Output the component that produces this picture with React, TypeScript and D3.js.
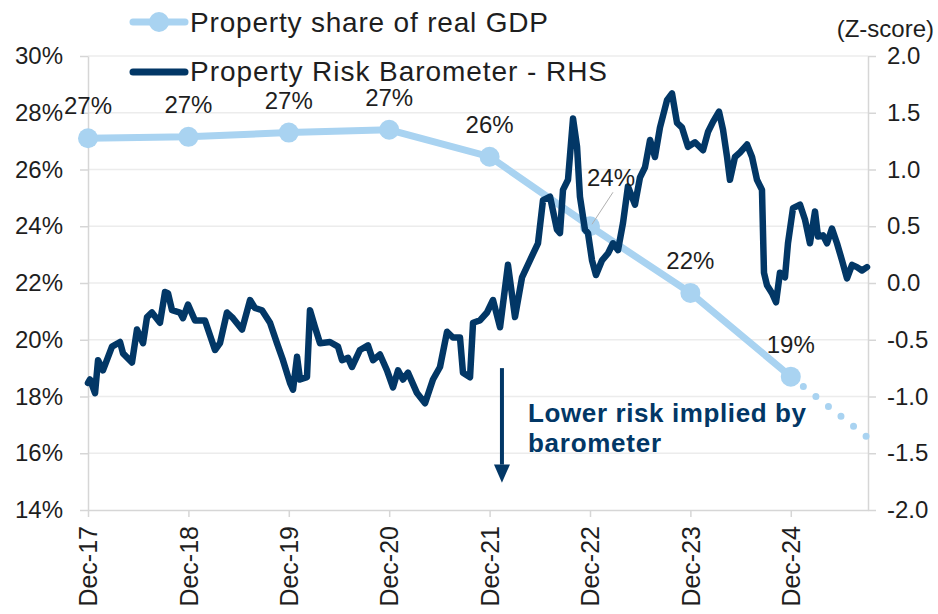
import { useRef, useEffect } from "react";
import { select, scaleLinear, line, axisBottom, axisLeft, axisRight } from "d3";

// property share of real GDP, december of each year (decimal years)
const gdpYears = [2017.917, 2018.917, 2019.917, 2020.917, 2021.917, 2022.917, 2023.917, 2024.917];
const gdpShare = [27.1, 27.15, 27.3, 27.4, 26.45, 24.0, 21.65, 18.7];
const gdpLabels = ["27%", "27%", "27%", "27%", "26%", "24%", "22%", "19%"];
// dotted projection
const projYears = [2024.917, 2025.917];
const projShare = [18.7, 15.9];

// property risk barometer (z-score)
const baroTime = [
  2017.917, 2017.937, 2017.987, 2018.017, 2018.066, 2018.156, 2018.236, 2018.266, 2018.355, 2018.405,
  2018.465, 2018.505, 2018.554, 2018.634, 2018.684, 2018.714, 2018.754, 2018.833, 2018.863, 2018.913,
  2018.983, 2019.082, 2019.182, 2019.232, 2019.301, 2019.361, 2019.451, 2019.531, 2019.58, 2019.65,
  2019.73, 2019.799, 2019.859, 2019.929, 2019.959, 2019.999, 2020.029, 2020.098, 2020.128, 2020.178,
  2020.228, 2020.327, 2020.407, 2020.447, 2020.507, 2020.546, 2020.626, 2020.706, 2020.756, 2020.825,
  2020.895, 2020.955, 2021.005, 2021.054, 2021.104, 2021.194, 2021.274, 2021.353, 2021.423, 2021.493,
  2021.552, 2021.622, 2021.652, 2021.722, 2021.752, 2021.821, 2021.891, 2021.951, 2022.021, 2022.1,
  2022.17, 2022.24, 2022.319, 2022.399, 2022.449, 2022.519, 2022.588, 2022.618, 2022.648, 2022.698,
  2022.748, 2022.788, 2022.817, 2022.867, 2022.897, 2022.937, 2022.977, 2023.037, 2023.096, 2023.146,
  2023.196, 2023.246, 2023.295, 2023.365, 2023.415, 2023.465, 2023.515, 2023.564, 2023.614, 2023.684,
  2023.734, 2023.784, 2023.833, 2023.893, 2023.963, 2024.043, 2024.092, 2024.142, 2024.202, 2024.242,
  2024.282, 2024.311, 2024.361, 2024.411, 2024.481, 2024.531, 2024.58, 2024.63, 2024.65, 2024.68,
  2024.73, 2024.77, 2024.809, 2024.859, 2024.889, 2024.939, 2025.009, 2025.058, 2025.108, 2025.158,
  2025.188, 2025.238, 2025.278, 2025.327, 2025.377, 2025.427, 2025.477, 2025.527, 2025.576, 2025.626,
  2025.676,
];
const baroZ = [
  -0.88, -0.85, -0.97, -0.68, -0.77, -0.56, -0.52, -0.62, -0.7, -0.41,
  -0.53, -0.3, -0.26, -0.35, -0.08, -0.09, -0.24, -0.26, -0.31, -0.19,
  -0.33, -0.33, -0.59, -0.53, -0.26, -0.31, -0.41, -0.15, -0.22, -0.24,
  -0.35, -0.53, -0.68, -0.88, -0.94, -0.65, -0.85, -0.83, -0.24, -0.39,
  -0.53, -0.52, -0.56, -0.68, -0.66, -0.74, -0.59, -0.55, -0.68, -0.63,
  -0.77, -0.92, -0.77, -0.85, -0.79, -0.97, -1.06, -0.85, -0.74, -0.43,
  -0.48, -0.48, -0.79, -0.83, -0.35, -0.33, -0.26, -0.15, -0.39, 0.16,
  -0.3, 0.05, 0.2, 0.35, 0.73, 0.76, 0.47, 0.44, 0.82, 0.91,
  1.45, 1.2, 0.76, 0.47, 0.44, 0.2, 0.07, 0.2, 0.26, 0.35,
  0.29, 0.53, 0.85, 0.69, 0.93, 1.02, 1.26, 1.11, 1.37, 1.61,
  1.67, 1.41, 1.37, 1.2, 1.24, 1.17, 1.33, 1.42, 1.51, 1.35,
  1.11, 0.91, 1.11, 1.15, 1.22, 1.11, 0.91, 0.82, 0.09, -0.02,
  -0.09, -0.17, 0.09, 0.05, 0.35, 0.66, 0.69, 0.56, 0.35, 0.63,
  0.41, 0.42, 0.35, 0.48, 0.35, 0.2, 0.04, 0.16, 0.14, 0.11,
  0.14,
];

const tickYears = [2017.917, 2018.917, 2019.917, 2020.917, 2021.917, 2022.917, 2023.917, 2024.917];
const tickLabels = ["Dec-17", "Dec-18", "Dec-19", "Dec-20", "Dec-21", "Dec-22", "Dec-23", "Dec-24"];
const leftTicks = [14, 16, 18, 20, 22, 24, 26, 28, 30];
const rightTicks = [-2, -1.5, -1, -0.5, 0, 0.5, 1, 1.5, 2];

const LIGHT = "#a9d3f1";
const NAVY = "#023766";
const FONT = "Liberation Sans, Arial, sans-serif";

function PropertyChart() {
  const svgRef = useRef(null);
  useEffect(() => {
    const svg = select(svgRef.current);
    svg.selectAll("*").remove();

    const left = 88, right = 868, top = 56, bottom = 510;

    const x = scaleLinear().domain([2017.917, 2025.686]).range([left, right]);
    const yL = scaleLinear().domain([14, 30]).range([bottom, top]);
    const yR = scaleLinear().domain([-2, 2]).range([bottom, top]);

    svg.append("clipPath").attr("id", "plot-clip")
      .append("rect").attr("x", left).attr("y", 0).attr("width", right - left + 2).attr("height", bottom);

    // gridlines
    svg.append("g")
      .selectAll("line")
      .data(leftTicks.slice(1))
      .join("line")
      .attr("x1", left).attr("x2", right)
      .attr("y1", (d) => yL(d)).attr("y2", (d) => yL(d))
      .attr("stroke", "#ececec").attr("stroke-width", 1.5);

    // axes
    const styleAxis = (g) => {
      g.selectAll(".domain").attr("stroke", "#d6d6d6").attr("stroke-width", 1.5);
      g.selectAll(".tick line").attr("stroke", "#d6d6d6").attr("stroke-width", 1.5);
      g.selectAll("text").attr("font-family", FONT).attr("font-size", 24).attr("fill", "#1e1e1e");
    };

    svg.append("g")
      .attr("transform", `translate(${left},0)`)
      .call(axisLeft(yL).tickValues(leftTicks).tickFormat((d) => d + "%").tickSize(8).tickSizeOuter(0).tickPadding(17))
      .call(styleAxis);

    svg.append("g")
      .attr("transform", `translate(${right},0)`)
      .call(axisRight(yR).tickValues(rightTicks).tickFormat((d) => d.toFixed(1)).tickSize(8).tickSizeOuter(0).tickPadding(11))
      .call(styleAxis);

    const xg = svg.append("g")
      .attr("transform", `translate(0,${bottom})`)
      .call(axisBottom(x).tickValues(tickYears).tickFormat((d, i) => tickLabels[i]).tickSize(7).tickSizeOuter(0))
      .call(styleAxis);
    xg.selectAll("text")
      .attr("font-size", 25)
      .attr("transform", "rotate(-90)")
      .attr("text-anchor", "end")
      .attr("x", -16).attr("y", 0).attr("dy", "0.35em");

    svg.append("text")
      .attr("x", 934).attr("y", 37)
      .attr("text-anchor", "end")
      .attr("font-family", FONT).attr("font-size", 24).attr("fill", "#1e1e1e")
      .text("(Z-score)");

    // GDP share line
    const gdpData = gdpYears.map((t, i) => ({ t, v: gdpShare[i], label: gdpLabels[i] }));
    const gdpLine = line().x((d) => x(d.t)).y((d) => yL(d.v));

    svg.append("path")
      .datum(projYears.map((t, i) => ({ t, v: projShare[i] })))
      .attr("d", gdpLine)
      .attr("clip-path", "url(#plot-clip)")
      .attr("fill", "none").attr("stroke", LIGHT)
      .attr("stroke-width", 7).attr("stroke-linecap", "round")
      .attr("stroke-dasharray", "0 16");

    svg.append("path")
      .datum(gdpData)
      .attr("d", gdpLine)
      .attr("fill", "none").attr("stroke", LIGHT).attr("stroke-width", 7);

    svg.append("g")
      .selectAll("circle")
      .data(gdpData)
      .join("circle")
      .attr("cx", (d) => x(d.t)).attr("cy", (d) => yL(d.v))
      .attr("r", 10).attr("fill", LIGHT);

    // barometer line
    const baroData = baroTime.map((t, i) => ({ t, z: baroZ[i] }));
    svg.append("path")
      .datum(baroData)
      .attr("d", line().x((d) => x(d.t)).y((d) => yR(d.z)))
      .attr("fill", "none").attr("stroke", NAVY)
      .attr("stroke-width", 6.5).attr("stroke-linejoin", "round").attr("stroke-linecap", "round");

    // data labels
    const labels = svg.append("g")
      .attr("font-family", FONT).attr("font-size", 24).attr("fill", "#1e1e1e").attr("text-anchor", "middle");
    gdpData.forEach((d, i) => {
      const px = x(d.t), py = yL(d.v);
      if (i === 5) {
        labels.append("line")
          .attr("x1", px + 23).attr("y1", py - 34)
          .attr("x2", px + 2).attr("y2", py - 2)
          .attr("stroke", "#b0b0b0").attr("stroke-width", 1);
        labels.append("text").attr("x", px + 21).attr("y", py - 40).text(d.label);
      } else {
        labels.append("text").attr("x", px).attr("y", py - 24).text(d.label);
      }
    });

    // annotation arrow
    const ax = x(2022.04);
    svg.append("line")
      .attr("x1", ax).attr("x2", ax)
      .attr("y1", yR(-0.75)).attr("y2", yR(-1.6))
      .attr("stroke", NAVY).attr("stroke-width", 4);
    svg.append("path")
      .attr("d", `M${ax - 8},${yR(-1.6)} L${ax + 8},${yR(-1.6)} L${ax},${yR(-1.76)} Z`)
      .attr("fill", NAVY);
    const note = svg.append("text")
      .attr("font-family", FONT).attr("font-size", 26).attr("font-weight", "bold").attr("fill", NAVY);
    note.append("tspan").attr("x", 528).attr("y", 422).attr("textLength", 278).text("Lower risk implied by");
    note.append("tspan").attr("x", 528).attr("y", 452).attr("textLength", 133).text("barometer");

    // legend
    const legend = svg.append("g").attr("font-family", FONT).attr("font-size", 28).attr("fill", "#1e1e1e");
    legend.append("line").attr("x1", 133).attr("x2", 185).attr("y1", 22).attr("y2", 22)
      .attr("stroke", LIGHT).attr("stroke-width", 7).attr("stroke-linecap", "round");
    legend.append("circle").attr("cx", 159).attr("cy", 22).attr("r", 10).attr("fill", LIGHT);
    legend.append("text").attr("x", 190).attr("y", 32).attr("textLength", 358).text("Property share of real GDP");
    legend.append("line").attr("x1", 133).attr("x2", 185).attr("y1", 72).attr("y2", 72)
      .attr("stroke", NAVY).attr("stroke-width", 7).attr("stroke-linecap", "round");
    legend.append("text").attr("x", 190).attr("y", 81).attr("textLength", 417).text("Property Risk Barometer - RHS");
  }, []);

  return (
    <svg
      ref={svgRef}
      width={938}
      height={614}
      style={{ position: "absolute", left: 0, top: 0, background: "#fff" }}
    />
  );
}

export default function App() {
  return <PropertyChart />;
}
